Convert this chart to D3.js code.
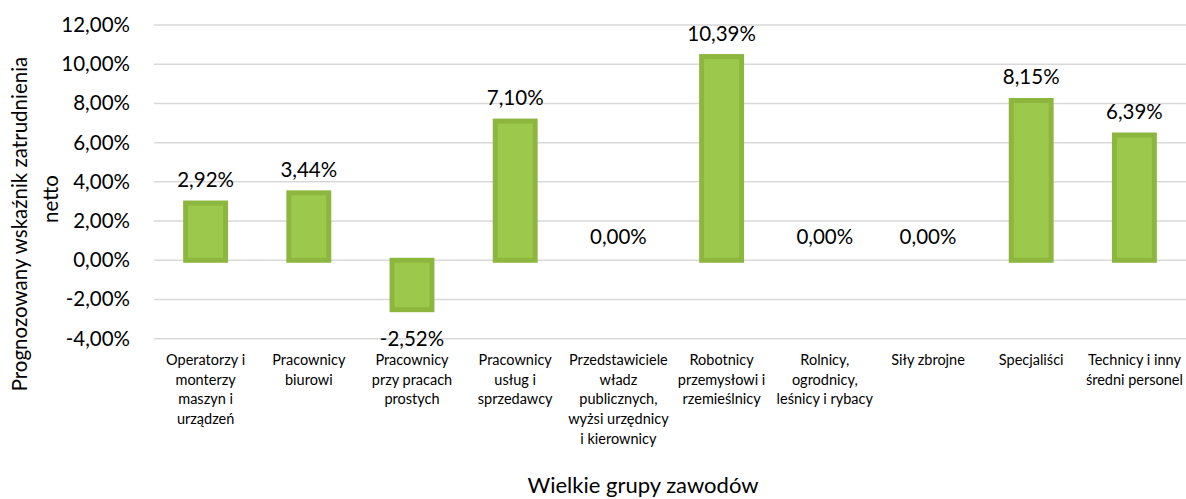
<!DOCTYPE html>
<html>
<head>
<meta charset="utf-8">
<script src="https://cdn.jsdelivr.net/npm/d3@7"></script>
<style>
  body { margin: 0; background: #fff; }
  text { font-family: Lato, "Open Sans", sans-serif; fill: #000; }
</style>
</head>
<body>
<div id="chart"></div>
<script>
// data
const categories = [
  ["Operatorzy i", "monterzy", "maszyn i", "urządzeń"],
  ["Pracownicy", "biurowi"],
  ["Pracownicy", "przy pracach", "prostych"],
  ["Pracownicy", "usług i", "sprzedawcy"],
  ["Przedstawiciele", "władz", "publicznych,", "wyżsi urzędnicy", "i kierownicy"],
  ["Robotnicy", "przemysłowi i", "rzemieślnicy"],
  ["Rolnicy,", "ogrodnicy,", "leśnicy i rybacy"],
  ["Siły zbrojne"],
  ["Specjaliści"],
  ["Technicy i inny", "średni personel"]
];
const values = [2.92, 3.44, -2.52, 7.10, 0, 10.39, 0, 0, 8.15, 6.39];
const yTicks = [-4, -2, 0, 2, 4, 6, 8, 10, 12];

const width = 1186, height = 499;
const margin = { top: 25, right: 0, bottom: 160, left: 154 };

const svg = d3.select("#chart")
  .append("svg")
  .attr("width", width)
  .attr("height", height);

const x = d3.scaleBand()
  .domain(d3.range(categories.length))
  .range([margin.left, width - margin.right])
  .paddingInner(0.565)
  .paddingOuter(0.2825);

const y = d3.scaleLinear()
  .domain([-4, 12])
  .range([338.7, margin.top]);

// polish format with a plain hyphen for negatives
const fmt = v => (v < 0 ? "-" : "") + Math.abs(v).toFixed(2).replace(".", ",") + "%";

// gridlines
svg.append("g")
  .selectAll("line")
  .data(yTicks)
  .join("line")
  .attr("x1", margin.left)
  .attr("x2", width - margin.right)
  .attr("y1", d => y(d))
  .attr("y2", d => y(d))
  .attr("stroke", "#d9d9d9")
  .attr("stroke-width", 1.5);

// y tick labels
svg.append("g")
  .selectAll("text")
  .data(yTicks)
  .join("text")
  .attr("x", 130)
  .attr("y", d => y(d) + 7)
  .attr("text-anchor", "end")
  .style("font-size", "20.5px")
  .text(d => fmt(d));

// bars
svg.append("g")
  .selectAll("rect")
  .data(values)
  .join("rect")
  .attr("x", (d, i) => x(i) + 2.5)
  .attr("width", x.bandwidth() - 5)
  .attr("y", d => y(Math.max(d, 0)))
  .attr("height", d => Math.abs(y(d) - y(0)))
  .attr("fill", "#9cc94b")
  .attr("stroke", "#8db63f")
  .attr("stroke-width", 5);

// value labels
svg.append("g")
  .selectAll("text")
  .data(values)
  .join("text")
  .attr("x", (d, i) => x(i) + x.bandwidth() / 2)
  .attr("y", d => d >= 0 ? y(d) - 16 : y(d) + 36)
  .attr("text-anchor", "middle")
  .style("font-size", "20.5px")
  .text(d => fmt(d));

// category labels
const cat = svg.append("g")
  .selectAll("text")
  .data(categories)
  .join("text")
  .attr("text-anchor", "middle")
  .style("font-size", "14.5px");
cat.each(function (lines, i) {
  d3.select(this)
    .selectAll("tspan")
    .data(lines)
    .join("tspan")
    .attr("x", x(i) + x.bandwidth() / 2)
    .attr("y", (l, j) => 365 + j * 19.7)
    .text(l => l);
});

// axis titles
svg.append("text")
  .attr("transform", "translate(27,224) rotate(-90)")
  .attr("text-anchor", "middle")
  .style("font-size", "20.5px")
  .text("Prognozowany wskaźnik zatrudnienia");

svg.append("text")
  .attr("transform", "translate(58,199) rotate(-90)")
  .attr("text-anchor", "middle")
  .style("font-size", "20.5px")
  .text("netto");

svg.append("text")
  .attr("x", 643)
  .attr("y", 493)
  .attr("text-anchor", "middle")
  .style("font-size", "22px")
  .text("Wielkie grupy zawodów");
</script>
</body>
</html>
